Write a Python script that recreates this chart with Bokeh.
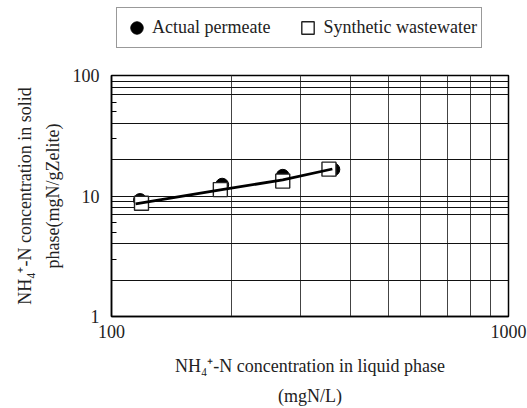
from bokeh.plotting import figure
from bokeh.layouts import column
from bokeh.models import FixedTicker, PrintfTickFormatter, Legend, LegendItem
from bokeh.embed import file_html
from bokeh.resources import INLINE

# Data
permeate_x = [118, 190, 270, 362]
permeate_y = [9.25, 12.4, 14.7, 16.6]
synthetic_x = [119, 188, 270, 353]
synthetic_y = [8.7, 11.3, 13.3, 16.7]
fit_x = [115, 188, 270, 360]
fit_y = [8.6, 11.25, 13.6, 16.75]

series_names = ["Actual permeate", "Synthetic wastewater"]
x_major = [100, 1000]
y_major = [1, 10, 100]
x_grid = [200, 300, 400, 500, 600, 700, 800, 900]
y_grid = [2, 4, 7, 8, 9, 10, 20, 40, 70, 80, 90]
y_minor = [3, 5, 6, 30, 50, 60]

FONT = "Liberation Serif"
FS = "18px"
INK = "#222222"

CIRCLE = dict(marker="circle", size=13, fill_color="black", line_color="black")
SQUARE = dict(marker="square", size=14, fill_color="white", line_color=INK, line_width=1.4)

# ---- main plot ----
p = figure(width=527, height=352, x_axis_type="log", y_axis_type="log",
           x_range=(100, 1000), y_range=(1, 100),
           output_backend="svg", toolbar_location=None,
           min_border_left=111, min_border_right=19,
           min_border_top=19, min_border_bottom=88)
p.background_fill_color = "white"
p.border_fill_color = "white"
p.outline_line_color = "black"
p.outline_line_width = 1.5

p.scatter(permeate_x, permeate_y, **CIRCLE)
p.scatter(synthetic_x, synthetic_y, **SQUARE)
p.line(fit_x, fit_y, line_color="black", line_width=2.8)

p.xaxis.ticker = FixedTicker(ticks=x_major)
p.yaxis.ticker = FixedTicker(ticks=y_major, minor_ticks=y_minor)
p.xaxis.formatter = PrintfTickFormatter(format="%d")
p.yaxis.formatter = PrintfTickFormatter(format="%d")
for ax in (p.xaxis, p.yaxis):
    ax.axis_line_color = "black"
    ax.axis_line_width = 1.5
    ax.major_tick_out = 0
    ax.major_tick_in = 0
    ax.major_label_text_font = FONT
    ax.major_label_text_font_size = FS
    ax.major_label_text_color = INK
    ax.axis_label_text_font = FONT
    ax.axis_label_text_font_size = FS
    ax.axis_label_text_font_style = "normal"
    ax.axis_label_text_color = INK
p.xaxis.axis_label_text_line_height = 1.5
p.yaxis.axis_label_text_line_height = 1.4
p.xaxis.minor_tick_out = 0
p.xaxis.minor_tick_in = 0
p.yaxis.minor_tick_out = 0
p.yaxis.minor_tick_in = 5
p.yaxis.minor_tick_line_color = "black"
p.xaxis.major_label_standoff = 8
p.yaxis.major_label_standoff = 12
p.xaxis.axis_label = "NH\u2084\u207a-N concentration in liquid phase\n(mgN/L)"
p.yaxis.axis_label = "NH\u2084\u207a-N concentration in solid\nphase(mgN/gZelite)"
p.xaxis.axis_label_standoff = 15
p.yaxis.axis_label_standoff = 7

p.xgrid.ticker = FixedTicker(ticks=x_grid)
p.ygrid.ticker = FixedTicker(ticks=y_grid)
p.xgrid.grid_line_color = "#444444"
p.ygrid.grid_line_color = "#111111"
p.xgrid.grid_line_width = 1
p.ygrid.grid_line_width = 1

# ---- legend strip above the plot (its frame is aligned with the plot's frame) ----
leg = figure(width=527, height=56, x_range=(0, 1), y_range=(0, 1),
             output_backend="svg", toolbar_location=None, min_border=0,
             x_axis_location=None, y_axis_location=None)
leg.outline_line_color = None
leg.xgrid.visible = False
leg.ygrid.visible = False
# same series, out of this strip's visible range: only their legend glyphs show
lc = leg.scatter(permeate_x, permeate_y, **CIRCLE)
ls = leg.scatter(synthetic_x, synthetic_y, **SQUARE)
legend = Legend(items=[LegendItem(label=series_names[0], renderers=[lc]),
                       LegendItem(label=series_names[1], renderers=[ls])],
                orientation="horizontal", location=(5, 8),
                label_text_font=FONT, label_text_font_size=FS,
                label_text_color=INK,
                glyph_width=31, glyph_height=31, label_standoff=0,
                spacing=22, padding=4, margin=0, label_height=24,
                border_line_color="#333333", border_line_width=1.2,
                background_fill_color="white")
leg.add_layout(legend, "center")

layout = column(leg, p, spacing=0)
open("out.html", "w").write(file_html(layout, INLINE))
